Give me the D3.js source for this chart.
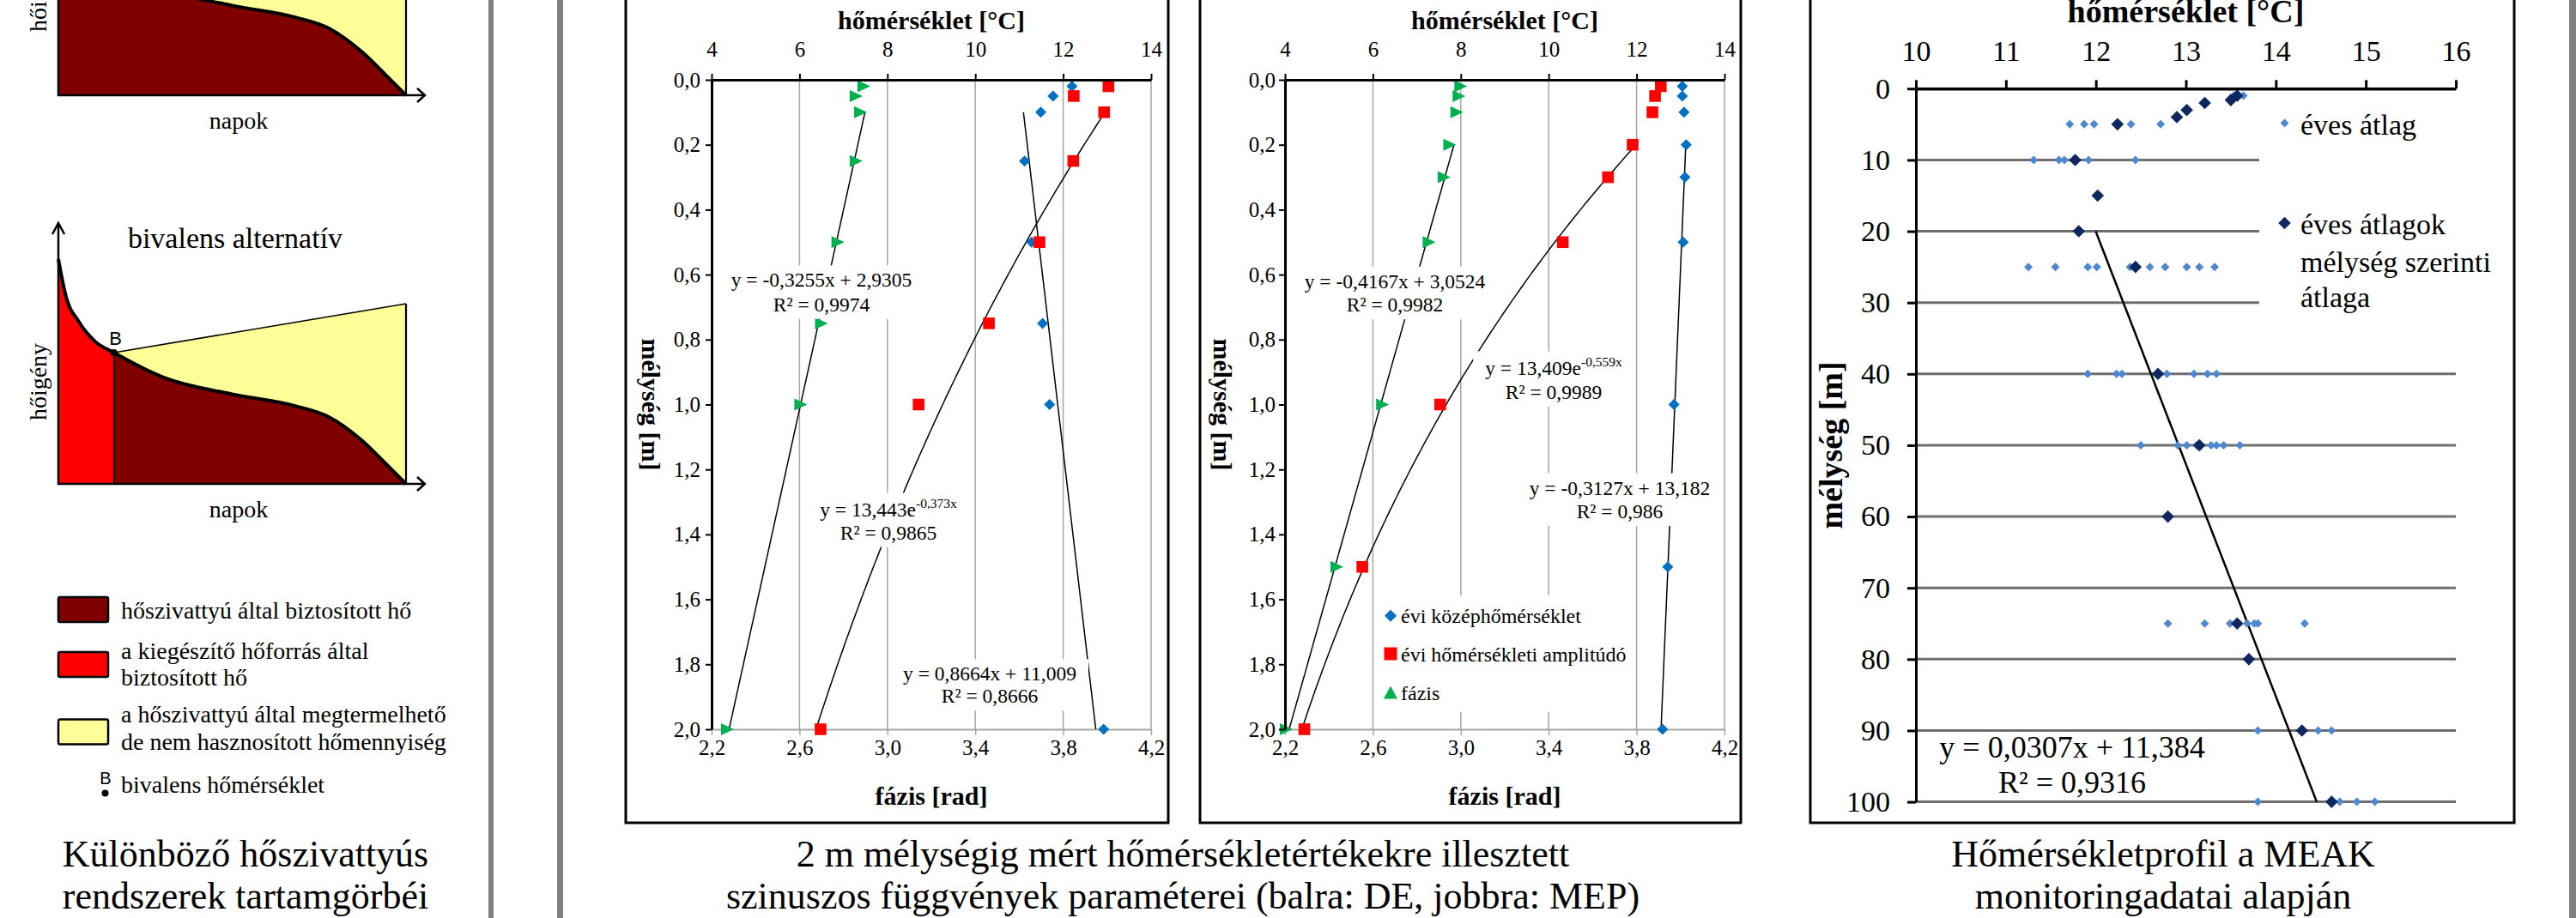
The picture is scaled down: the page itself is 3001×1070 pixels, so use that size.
<!DOCTYPE html>
<html>
<head>
<meta charset="utf-8">
<script src="https://cdn.jsdelivr.net/npm/d3@7"></script>
<style>
body{margin:0;background:#fff}
svg{display:block;font-family:"Liberation Serif","Times New Roman",serif}
text{font-family:"Liberation Serif","Times New Roman",serif;fill:#000}
text.sans{font-family:"Liberation Sans",Arial,sans-serif}
</style>
</head>
<body>
<svg id="fig"></svg>
<script>
// ---- left panel: schematic load duration curves (days 0..1, demand 0..1)
const peakDays = [0, 0.021, 0.059, 0.106, 0.16];
const peakDemand = [0.873, 0.733, 0.63, 0.553, 0.51];
const baseDays = [0.16, 0.304, 0.494, 0.681, 0.778, 0.872, 0.948, 1.0];
const baseDemand = [0.51, 0.413, 0.35, 0.303, 0.26, 0.17, 0.07, 0];
const yieldDays = [0.16, 1.0];
const yieldDemand = [0.51, 0.7];
const legendFills = ["#800000", "#ff0000", "#ffff99"];
const legendLines = [["hőszivattyú által biztosított hő"],
                     ["a kiegészítő hőforrás által", "biztosított hő"],
                     ["a hőszivattyú által megtermelhető", "de nem hasznosított hőmennyiség"]];

// ---- middle panels: 2 m profiles
const tempTicks = [4, 6, 8, 10, 12, 14];
const phaseTicks = [2.2, 2.6, 3.0, 3.4, 3.8, 4.2];
const depthTicks = [0, 0.2, 0.4, 0.6, 0.8, 1.0, 1.2, 1.4, 1.6, 1.8, 2.0];

const deDepth = [0.02, 0.05, 0.1, 0.25, 0.5, 0.75, 1.0, 2.0];
const deMean = [12.2, 11.77, 11.49, 11.12, 11.28, 11.53, 11.69, 12.92];
const deAmp = [13.03, 12.24, 12.93, 12.23, 11.46, 10.31, 8.71, 6.48];
const dePhase = [2.893, 2.858, 2.878, 2.858, 2.775, 2.70, 2.606, 2.272];
const deMeanFit = [0.8664, 11.009];
const deAmpFit = [13.443, -0.373];
const dePhaseFit = [-0.3255, 2.9305];

const mepDepth = [0.02, 0.05, 0.1, 0.2, 0.3, 0.5, 1.0, 1.5, 2.0];
const mepMean = [13.04, 13.04, 13.08, 13.13, 13.10, 13.06, 12.85, 12.71, 12.59];
const mepAmp = [12.55, 12.42, 12.36, 11.91, 11.35, 10.32, 7.53, 5.76, 4.44];
const mepPhase = [3.0, 2.992, 2.982, 2.95, 2.924, 2.856, 2.644, 2.436, 2.206];
const mepMeanFit = [-0.3127, 13.182];
const mepAmpFit = [13.409, -0.559];
const mepPhaseFit = [-0.4167, 3.0524];

const seriesNames = ["évi középhőmérséklet", "évi hőmérsékleti amplitúdó", "fázis"];

// ---- right panel: MEAK monitoring
const meakTempTicks = [10, 11, 12, 13, 14, 15, 16];
const meakDepthTicks = [0, 10, 20, 30, 40, 50, 60, 70, 80, 90, 100];
const yearDepth = [1, 1,
  5, 5, 5, 5, 5,
  10, 10, 10, 10, 10,
  25, 25, 25, 25, 25, 25, 25, 25, 25, 25,
  40, 40, 40, 40, 40, 40, 40,
  50, 50, 50, 50, 50, 50, 50, 50,
  75, 75, 75, 75, 75, 75, 75,
  90, 90, 90,
  100, 100, 100, 100];
const yearTemp = [13.53, 13.64,
  11.71, 11.87, 11.98, 12.39, 12.72,
  11.31, 11.59, 11.65, 11.92, 12.44,
  11.25, 11.55, 11.91, 12.01, 12.38, 12.60, 12.77, 13.01, 13.15, 13.32,
  11.91, 12.23, 12.29, 12.79, 13.09, 13.24, 13.34,
  12.50, 12.91, 13.01, 13.12, 13.28, 13.34, 13.42, 13.60,
  12.80, 13.21, 13.49, 13.68, 13.76, 13.80, 14.32,
  13.80, 14.47, 14.62,
  13.80, 14.71, 14.90, 15.10];
const meanDepth = [1, 1.6, 2, 3, 4, 5, 10, 15, 20, 25, 40, 50, 60, 75, 80, 90, 100];
const meanTemp = [13.57, 13.50, 13.21, 13.01, 12.90, 12.24, 11.77, 12.02, 11.81, 12.44, 12.69, 13.15, 12.80, 13.57, 13.70, 14.29, 14.62];
const meakFit = [0.0307, 11.384];
const meakLegend = [["éves átlag"], ["éves átlagok", "mélység szerinti", "átlaga"]];

const SERIF = "'Liberation Serif','Times New Roman',serif";
const W = 3001, H = 1070;
const svg = d3.select("#fig").attr("width", W).attr("height", H).attr("viewBox", [0, 0, W, H]);
svg.append("rect").attr("width", W).attr("height", H).attr("fill", "#fff");

const comma1 = d => d3.format(".1f")(d).replace(".", ",");
const diamond = (w, h) => `M0,${-h}L${w},0L0,${h}L${-w},0Z`;
const square = s => `M${-s},${-s}H${s}V${s}H${-s}Z`;
const triRight = (w, h) => `M${-w},${-h}L${w},0L${-w},${h}Z`;
const triUp = (w, h) => `M0,${-h}L${w},${h}L${-w},${h}Z`;

// gray separators
[[569, 6], [649, 7], [2993, 8]].forEach(s =>
  svg.append("rect").attr("x", s[0]).attr("y", 0).attr("width", s[1]).attr("height", H).attr("fill", "#808080"));

// ================= left panel =================
const lx = d3.scaleLinear().domain([0, 1]).range([68, 473]);

function duration(bottom, bivalent) {
  const ly = d3.scaleLinear().domain([0, 1]).range([bottom, bottom - 300]);
  const g = svg.append("g");
  const pk = peakDays.map((d, i) => [d, peakDemand[i]]);
  const bs = baseDays.map((d, i) => [d, baseDemand[i]]);
  const full = pk.concat(bs.slice(1));
  const area = d3.area().x(d => lx(d[0])).y0(ly(0)).y1(d => ly(d[1])).curve(d3.curveMonotoneX);
  const line = d3.line().x(d => lx(d[0])).y(d => ly(d[1])).curve(d3.curveMonotoneX);

  // yellow: between yield line and base curve
  const topL = yieldDays.map((d, i) => [d, yieldDemand[i]]);
  const yPath = "M" + lx(topL[0][0]) + "," + ly(topL[0][1]) + "L" + lx(topL[1][0]) + "," + ly(topL[1][1]) +
    "L" + lx(1) + "," + ly(0) + line(bs.slice().reverse()).replace(/^M/, "L") + "Z";
  g.append("path").attr("d", yPath).attr("fill", "#ffff99");
  if (bivalent) {
    g.append("path").attr("d", area(pk)).attr("fill", "#ff0000");
    g.append("path").attr("d", area(bs)).attr("fill", "#800000");
    g.append("line").attr("x1", lx(baseDays[0])).attr("x2", lx(baseDays[0]))
      .attr("y1", ly(baseDemand[0])).attr("y2", ly(0)).attr("stroke", "#000").attr("stroke-width", 1.8);
  } else {
    g.append("path").attr("d", area(full)).attr("fill", "#800000");
  }
  g.append("line").attr("x1", lx(topL[0][0])).attr("y1", ly(topL[0][1])).attr("x2", lx(topL[1][0])).attr("y2", ly(topL[1][1]))
    .attr("stroke", "#000").attr("stroke-width", 1.6);
  g.append("line").attr("x1", lx(1)).attr("x2", lx(1)).attr("y1", ly(topL[1][1])).attr("y2", ly(0))
    .attr("stroke", "#000").attr("stroke-width", 2.2);
  g.append("path").attr("d", line(full)).attr("fill", "none").attr("stroke", "#000").attr("stroke-width", 4);
  // axes with open arrows
  const ax = g.append("g").attr("fill", "none").attr("stroke", "#000").attr("stroke-width", 2.5);
  ax.append("path").attr("d", `M68,${bottom - 304}V${bottom}H495`);
  ax.append("path").attr("d", `M486,${bottom - 8}L495,${bottom}L486,${bottom + 8}`);
  ax.append("path").attr("d", `M61,${bottom - 291}L68,${bottom - 304}L75,${bottom - 291}`);
  g.append("text").attr("x", 278).attr("y", bottom + 39).attr("text-anchor", "middle").attr("font-size", 28).text("napok");
  g.append("text").attr("transform", `translate(54,${bottom - 119}) rotate(-90)`).attr("text-anchor", "middle")
    .attr("font-size", 28).text("hőigény");
  if (bivalent) {
    g.append("circle").attr("cx", lx(baseDays[0])).attr("cy", ly(baseDemand[0])).attr("r", 4).attr("fill", "#000");
    g.append("text").attr("class", "sans").attr("x", 134.5).attr("y", ly(baseDemand[0]) - 9).attr("text-anchor", "middle")
      .attr("font-size", 22).text("B");
    g.append("text").attr("x", 274).attr("y", bottom - 275).attr("text-anchor", "middle").attr("font-size", 34)
      .text("bivalens alternatív");
  }
}
duration(111, false);
duration(564, true);

// legend
const lgY = [696, 760, 838.5];
const lgBase = [[720.7], [767.7, 799], [842, 873.7]];
legendFills.forEach((c, i) => {
  svg.append("rect").attr("x", 68).attr("y", lgY[i]).attr("width", 58).attr("height", 29).attr("rx", 2)
    .attr("fill", c).attr("stroke", "#000").attr("stroke-width", 2.5);
  legendLines[i].forEach((t, j) =>
    svg.append("text").attr("x", 141).attr("y", lgBase[i][j]).attr("font-size", 28).text(t));
});
svg.append("text").attr("class", "sans").attr("x", 123).attr("y", 914).attr("text-anchor", "middle")
  .attr("font-size", 20).text("B");
svg.append("circle").attr("cx", 122.5).attr("cy", 924.5).attr("r", 4).attr("fill", "#000");
svg.append("text").attr("x", 141).attr("y", 924.3).attr("font-size", 28).text("bivalens hőmérséklet");

// ================= profile charts =================
function styleAxis(ax, fs) {
  ax.attr("font-family", SERIF).attr("font-size", fs);
  ax.selectAll("text").style("font-family", SERIF);
}

function eqLabel(g, cx, b1, b2, main, sup, r2, fs) {
  const lg = g.append("g");
  const bg = lg.append("rect").attr("fill", "#fff");
  const t1 = lg.append("text").attr("x", cx).attr("y", b1).attr("text-anchor", "middle").attr("font-size", fs);
  t1.append("tspan").text(main);
  if (sup) t1.append("tspan").attr("dy", -fs * 0.42).attr("font-size", fs * 0.66).text(sup);
  const t2 = lg.append("text").attr("x", cx).attr("y", b2).attr("text-anchor", "middle").attr("font-size", fs).text(r2);
  const a = t1.node().getBBox(), b = t2.node().getBBox();
  const x0 = Math.min(a.x, b.x), x1 = Math.max(a.x + a.width, b.x + b.width);
  bg.attr("x", x0 - 14).attr("y", a.y - 4).attr("width", x1 - x0 + 28).attr("height", b.y + b.height - a.y + 8);
}

function profile(o) {
  const g = svg.append("g");
  const x = d3.scaleLinear().domain([4, 14]).range([o.x0, o.x0 + 512]);
  const xp = d3.scaleLinear().domain([2.2, 4.2]).range([o.x0, o.x0 + 512]);
  const y = d3.scaleLinear().domain([0, 2]).range([93, 850]);

  g.append("rect").attr("x", o.bx0).attr("y", -10).attr("width", o.bx1 - o.bx0).attr("height", 969)
    .attr("fill", "none").attr("stroke", "#000").attr("stroke-width", 3);

  g.append("g").selectAll("line").data(tempTicks.slice(1)).join("line")
    .attr("x1", d => x(d)).attr("x2", d => x(d)).attr("y1", y(0)).attr("y2", y(2))
    .attr("stroke", "#a6a6a6").attr("stroke-width", 1.5);

  const bAx = g.append("g").attr("transform", `translate(0,${y(2)})`)
    .call(d3.axisBottom(xp).tickValues(phaseTicks).tickSize(7).tickSizeOuter(0).tickPadding(5).tickFormat(comma1));
  styleAxis(bAx, 25);
  bAx.select(".domain").attr("stroke", "#a6a6a6").attr("stroke-width", 2);
  bAx.selectAll(".tick line").attr("stroke", "#a6a6a6").attr("stroke-width", 1.5);

  // trendlines from the fitted equations shown on the chart
  const dd = d3.range(o.fitFrom, 2.0001, 0.01);
  const lin = (f) => d => f[0] * d + f[1];
  const expo = (f) => d => f[0] * Math.exp(f[1] * d);
  const tl = (sc, fn) => d3.line().x(d => sc(fn(d))).y(d => y(d));
  const tg = g.append("g").attr("fill", "none").attr("stroke", "#000").attr("stroke-width", 1.5);
  tg.append("path").attr("d", tl(x, lin(o.meanFit))(dd));
  tg.append("path").attr("d", tl(x, expo(o.ampFit))(dd));
  tg.append("path").attr("d", tl(xp, lin(o.phaseFit))(dd));

  const mk = (sc, vals, path, color) => g.append("g").selectAll("path")
    .data(o.depth.map((d, i) => [vals[i], d])).join("path")
    .attr("d", path).attr("fill", color)
    .attr("transform", d => `translate(${sc(d[0])},${y(d[1])})`);
  mk(x, o.mean, diamond(6.5, 6.5), "#0070c0");
  mk(x, o.amp, square(6.8), "#ff0000");
  mk(xp, o.phase, triRight(7.5, 7), "#00b050");

  o.labels.forEach(l => eqLabel(g, l[0], l[1], l[2], l[3], l[4], l[5], 23.5));

  const tAx = g.append("g").attr("transform", `translate(0,${y(0)})`)
    .call(d3.axisTop(x).tickValues(tempTicks).tickSize(7).tickSizeOuter(0).tickPadding(20));
  styleAxis(tAx, 25);
  tAx.select(".domain").attr("stroke-width", 3);
  tAx.selectAll(".tick line").attr("stroke-width", 2);

  const lAx = g.append("g").attr("transform", `translate(${o.x0},0)`)
    .call(d3.axisLeft(y).tickValues(depthTicks).tickSize(7).tickSizeOuter(0).tickPadding(o.lpad).tickFormat(comma1));
  styleAxis(lAx, 25);
  lAx.select(".domain").attr("stroke-width", 3);
  lAx.selectAll(".tick line").attr("stroke-width", 2);

  const mid = o.x0 + 256;
  g.append("text").attr("x", mid).attr("y", 34).attr("text-anchor", "middle").attr("font-size", 30)
    .attr("font-weight", "bold").text("hőmérséklet [°C]");
  g.append("text").attr("x", mid).attr("y", 938).attr("text-anchor", "middle").attr("font-size", 30)
    .attr("font-weight", "bold").text("fázis [rad]");
  g.append("text").attr("transform", `translate(${o.ytx},${y(1)}) rotate(90)`).attr("text-anchor", "middle")
    .attr("font-size", 30).attr("font-weight", "bold").text("mélység [m]");

  if (o.legend) {
    const lg = g.append("g");
    lg.append("rect").attr("x", 1606).attr("y", 694).attr("width", 292).attr("height", 136).attr("fill", "#fff");
    const ly = [717.7, 762, 807];
    const shapes = [diamond(7, 7), square(7.5), triUp(8, 7.5)];
    const cols = ["#0070c0", "#ff0000", "#00b050"];
    seriesNames.forEach((n, i) => {
      lg.append("path").attr("d", shapes[i]).attr("fill", cols[i]).attr("transform", `translate(1620,${ly[i]})`);
      lg.append("text").attr("x", 1632).attr("y", ly[i] + 8.5).attr("font-size", 24).text(n);
    });
  }
}

profile({
  x0: 829, bx0: 729, bx1: 1361, lpad: 6, ytx: 748, fitFrom: 0.1,
  depth: deDepth, mean: deMean, amp: deAmp, phase: dePhase,
  meanFit: deMeanFit, ampFit: deAmpFit, phaseFit: dePhaseFit,
  labels: [
    [957, 334.3, 362.7, "y = -0,3255x + 2,9305", null, "R² = 0,9974"],
    [1035, 602.3, 628.5, "y = 13,443e", "-0,373x", "R² = 0,9865"],
    [1153, 793.4, 819.3, "y = 0,8664x + 11,009", null, "R² = 0,8666"]
  ]
});
profile({
  x0: 1497, bx0: 1398, bx1: 2028, lpad: 4, ytx: 1414, fitFrom: 0.2, legend: true,
  depth: mepDepth, mean: mepMean, amp: mepAmp, phase: mepPhase,
  meanFit: mepMeanFit, ampFit: mepAmpFit, phaseFit: mepPhaseFit,
  labels: [
    [1625, 335.7, 363.3, "y = -0,4167x + 3,0524", null, "R² = 0,9982"],
    [1810, 437.3, 464.9, "y = 13,409e", "-0,559x", "R² = 0,9989"],
    [1887, 576.5, 604, "y = -0,3127x + 13,182", null, "R² = 0,986"]
  ]
});

// ================= MEAK chart =================
(function () {
  const g = svg.append("g");
  const x = d3.scaleLinear().domain([10, 16]).range([2232, 2861]);
  const y = d3.scaleLinear().domain([0, 100]).range([103.3, 934.6]);

  g.append("rect").attr("x", 2109).attr("y", -10).attr("width", 820).attr("height", 969)
    .attr("fill", "none").attr("stroke", "#000").attr("stroke-width", 3);

  g.append("g").selectAll("line").data(meakDepthTicks.slice(1)).join("line")
    .attr("x1", x(10)).attr("x2", x(16)).attr("y1", d => y(d)).attr("y2", d => y(d))
    .attr("stroke", "#6e6e6e").attr("stroke-width", 3);

  const dd = d3.range(20, 100.01, 1);
  g.append("path").attr("d", d3.line().x(d => x(meakFit[0] * d + meakFit[1])).y(d => y(d))(dd))
    .attr("fill", "none").attr("stroke", "#000").attr("stroke-width", 2.5);

  g.append("g").selectAll("path").data(yearDepth.map((d, i) => [yearTemp[i], d])).join("path")
    .attr("d", diamond(5, 5)).attr("fill", "#5088d0")
    .attr("transform", d => `translate(${x(d[0])},${y(d[1])})`);
  g.append("g").selectAll("path").data(meanDepth.map((d, i) => [meanTemp[i], d])).join("path")
    .attr("d", diamond(7.3, 7.3)).attr("fill", "#0f275f")
    .attr("transform", d => `translate(${x(d[0])},${y(d[1])})`);

  // legend
  const lg = g.append("g");
  lg.append("rect").attr("x", 2632).attr("y", 118).attr("width", 290).attr("height", 265).attr("fill", "#fff");
  lg.append("path").attr("d", diamond(5, 5)).attr("fill", "#5088d0").attr("transform", "translate(2661.5,143.5)");
  lg.append("path").attr("d", diamond(7.3, 7.3)).attr("fill", "#0f275f").attr("transform", "translate(2661.5,260)");
  const lb = [[156.7], [273, 316.5, 358.3]];
  meakLegend.forEach((ls, i) => ls.forEach((t, j) =>
    lg.append("text").attr("x", 2680).attr("y", lb[i][j]).attr("font-size", 34).text(t)));

  const tAx = g.append("g").attr("transform", `translate(0,${y(0)})`)
    .call(d3.axisTop(x).tickValues(meakTempTicks).tickSize(10).tickSizeOuter(0).tickPadding(22).tickFormat(d3.format("d")));
  styleAxis(tAx, 34);
  tAx.select(".domain").attr("stroke-width", 3.5);
  tAx.selectAll(".tick line").attr("stroke-width", 3);

  const lAx = g.append("g").attr("transform", `translate(${x(10)},0)`)
    .call(d3.axisLeft(y).tickValues(meakDepthTicks).tickSize(10).tickSizeOuter(0).tickPadding(20).tickFormat(d3.format("d")));
  styleAxis(lAx, 34);
  lAx.select(".domain").attr("stroke-width", 3);
  lAx.selectAll(".tick line").attr("stroke-width", 3);

  g.append("text").attr("x", (x(10) + x(16)) / 2).attr("y", 26).attr("text-anchor", "middle")
    .attr("font-size", 38).attr("font-weight", "bold").text("hőmérséklet [°C]");
  g.append("text").attr("transform", `translate(2146,${y(50)}) rotate(-90)`).attr("text-anchor", "middle")
    .attr("font-size", 38).attr("font-weight", "bold").text("mélység [m]");

  g.append("text").attr("x", 2414).attr("y", 883).attr("text-anchor", "middle").attr("font-size", 36)
    .text("y = 0,0307x + 11,384");
  g.append("text").attr("x", 2414).attr("y", 924).attr("text-anchor", "middle").attr("font-size", 36)
    .text("R² = 0,9316");
})();

// ================= captions =================
const captions = [
  [286, ["Különböző hőszivattyús", "rendszerek tartamgörbéi"]],
  [1378, ["2 m mélységig mért hőmérsékletértékekre illesztett", "szinuszos függvények paraméterei (balra: DE, jobbra: MEP)"]],
  [2520, ["Hőmérsékletprofil a MEAK", "monitoringadatai alapján"]]
];
captions.forEach(c => c[1].forEach((t, i) =>
  svg.append("text").attr("x", c[0]).attr("y", 1010 + i * 49).attr("text-anchor", "middle")
    .attr("font-size", 44).text(t)));
</script>
</body>
</html>
